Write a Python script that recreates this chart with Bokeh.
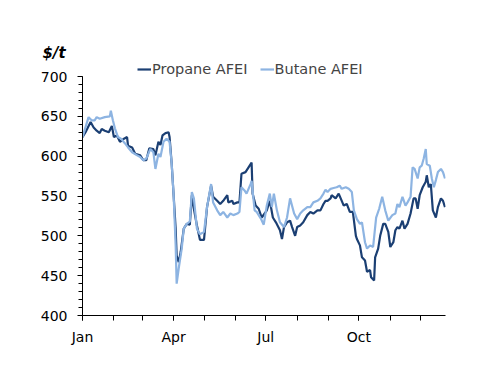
import pandas as pd
from bokeh.plotting import figure
from bokeh.models import (Range1d, FixedTicker, SingleIntervalTicker, DatetimeTickFormatter,
                          Legend, LegendItem)
from bokeh.embed import file_html
from bokeh.resources import INLINE

# Day offsets from 1 January and prices ($/t)
propane_days = [0, 3, 8, 11, 14, 17, 19, 22, 26, 29, 31, 34, 37, 41, 44, 45, 49, 52, 57, 60,
                63, 66, 70, 72, 75, 77, 79, 82, 85, 86, 88, 90, 92, 93, 95, 97, 100, 103, 106, 108,
                110, 113, 116, 120, 123, 127, 129, 133, 136, 139, 143, 144, 148, 149, 153, 155, 157, 161, 164, 167,
                168, 171, 174, 177, 181, 182, 185, 188, 191, 195, 197, 199, 202, 205, 207, 210, 212, 215, 218, 222,
                225, 228, 232, 235, 238, 240, 242, 245, 246, 250, 253, 255, 258, 261, 264, 267, 270, 271, 274, 276,
                279, 281, 284, 285, 288, 289, 292, 294, 297, 299, 302, 304, 307, 309, 311, 313, 316, 318, 321, 324,
                327, 329, 331, 333, 336, 339, 340, 342, 344, 346, 349, 351, 354, 356, 358]
propane = [624, 630, 643, 636, 632, 629, 634, 632, 630, 638, 624, 626, 618, 622, 624, 613, 611, 603, 601, 595,
           595, 610, 609, 601, 618, 614, 626, 629, 630, 624, 592, 551, 509, 475, 467, 480, 509, 515, 514, 551,
           534, 513, 495, 495, 536, 563, 549, 544, 540, 544, 551, 542, 544, 540, 542, 542, 578, 580, 586, 592,
           553, 538, 534, 523, 530, 532, 544, 523, 517, 507, 496, 511, 517, 519, 511, 500, 511, 513, 517, 526,
           530, 528, 532, 532, 540, 544, 544, 547, 551, 547, 553, 547, 538, 540, 530, 530, 500, 496, 488, 473,
           469, 455, 457, 448, 444, 473, 484, 500, 515, 515, 505, 486, 492, 507, 511, 509, 519, 509, 515, 528,
           547, 547, 534, 551, 561, 568, 576, 561, 565, 532, 523, 536, 547, 544, 536]

butane_days = [0, 6, 9, 12, 14, 17, 22, 27, 28, 30, 32, 35, 38, 42, 45, 49, 54, 57, 60, 63,
               67, 70, 72, 75, 77, 80, 83, 86, 88, 90, 92, 93, 95, 98, 100, 103, 106, 108, 110, 113,
               116, 120, 123, 127, 129, 133, 136, 139, 143, 146, 149, 153, 155, 157, 160, 162, 166, 167, 170, 172,
               176, 179, 182, 185, 187, 189, 192, 195, 199, 202, 205, 209, 212, 215, 218, 222, 225, 228, 232, 235,
               238, 240, 242, 245, 248, 251, 254, 256, 260, 263, 266, 268, 271, 274, 276, 279, 281, 284, 287, 290,
               293, 296, 299, 302, 306, 309, 311, 313, 316, 319, 321, 324, 326, 328, 331, 333, 335, 337, 339, 340,
               343, 345, 347, 349, 351, 354, 356, 358]
butane = [624, 649, 645, 645, 649, 647, 649, 650, 657, 645, 635, 624, 622, 616, 611, 605, 601, 599, 595, 597,
          609, 605, 584, 603, 599, 618, 622, 618, 592, 551, 488, 440, 459, 484, 509, 515, 518, 555, 547, 509,
          502, 505, 536, 565, 542, 532, 526, 530, 523, 528, 526, 528, 530, 561, 557, 553, 565, 569, 532, 530,
          522, 514, 538, 553, 536, 553, 532, 517, 511, 523, 547, 528, 521, 528, 532, 536, 536, 542, 544, 547,
          553, 558, 555, 559, 560, 561, 563, 559, 561, 559, 555, 532, 521, 515, 517, 492, 484, 488, 486, 523,
          534, 549, 532, 519, 526, 528, 540, 536, 549, 538, 542, 549, 586, 584, 572, 586, 588, 597, 609, 590,
          588, 572, 561, 570, 580, 584, 580, 572]

month_labels = ["Jan", "Apr", "Jul", "Oct"]
series_names = ["Propane AFEI", "Butane AFEI"]
unit_text = "$/t"

start = pd.Timestamp("2013-01-01")
prop_x = start + pd.to_timedelta(propane_days, unit="D")
but_x = start + pd.to_timedelta(butane_days, unit="D")

def ms(ts):
    return ts.value / 1e6

month_starts = pd.date_range("2013-01-01", "2013-12-01", freq="MS")
major = [ms(d) for d in month_starts if d.strftime("%b") in month_labels]
minor = [ms(d) for d in month_starts]

x_end = start + pd.Timedelta(days=358.5)

FONT = "DejaVu Sans"
DARK = "#1B3F73"
LIGHT = "#8DB4E2"

# frame runs from 400 up to ~717.6 so the legend (just above the 700 line) sits inside it
p = figure(width=484, height=370, output_backend="svg", toolbar_location=None,
           x_axis_type="datetime",
           x_range=Range1d(ms(start), ms(x_end)), y_range=Range1d(400, 717.6),
           min_border_left=82, min_border_right=39, min_border_top=62, min_border_bottom=55)
p.outline_line_color = None
p.xgrid.visible = False
p.ygrid.visible = False
p.background_fill_color = "white"

p.title.text = unit_text
p.title.align = "left"
p.title.vertical_align = "bottom"
p.title.offset = -40
p.title.text_font = FONT
p.title.text_font_size = "15px"
p.title.text_font_style = "bold italic"
p.title.text_color = "black"
p.title.standoff = 2

r1 = p.line(prop_x, propane, line_color=DARK, line_width=2.2)
r2 = p.line(but_x, butane, line_color=LIGHT, line_width=2.2)

xa = p.xaxis[0]
xa.ticker = FixedTicker(ticks=major, minor_ticks=minor)
xa.formatter = DatetimeTickFormatter(months="%b", days="%b", years="%b")
xa.major_tick_in = 0
xa.major_tick_out = 5
xa.minor_tick_in = 0
xa.minor_tick_out = 5
xa.major_label_standoff = 8

ya = p.yaxis[0]
ya.ticker = SingleIntervalTicker(interval=50, num_minor_ticks=5)
ya.bounds = (400, 700)
ya.major_tick_in = 0
ya.major_tick_out = 5
ya.minor_tick_in = 0
ya.minor_tick_out = 4
ya.major_label_standoff = 10

for ax in (xa, ya):
    ax.axis_line_color = "black"
    ax.major_tick_line_color = "black"
    ax.minor_tick_line_color = "black"
    ax.major_label_text_font = FONT
    ax.major_label_text_font_size = "14px"
    ax.major_label_text_color = "black"

legend = Legend(items=[LegendItem(label=series_names[0], renderers=[r1]),
                       LegendItem(label=series_names[1], renderers=[r2])],
                orientation="horizontal", location=(55, 238),
                glyph_width=14, glyph_height=14, label_standoff=1, spacing=12,
                padding=0, margin=0, border_line_alpha=0, background_fill_alpha=0,
                label_text_font=FONT, label_text_font_size="14.5px", label_height=14)
p.add_layout(legend, "center")

open("out.html", "w").write(file_html(p, INLINE))
